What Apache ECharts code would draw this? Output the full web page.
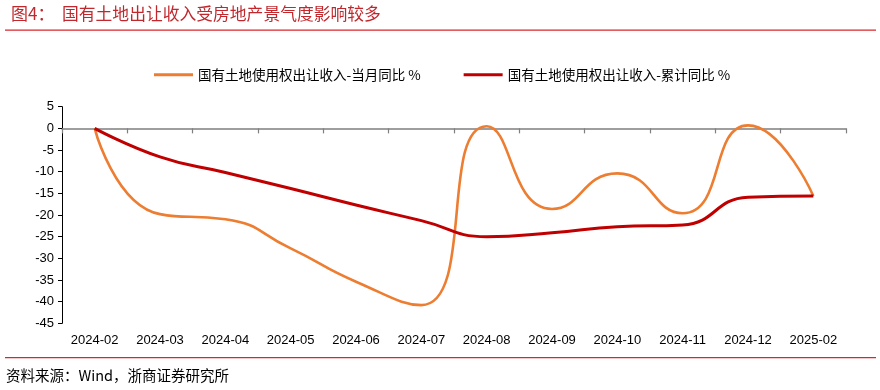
<!DOCTYPE html>
<html>
<head>
<meta charset="utf-8">
<script src="https://cdn.jsdelivr.net/npm/echarts@6/dist/echarts.min.js"></script>
<style>
html,body{margin:0;padding:0;background:#fff;}
#c{width:880px;height:390px;}
</style>
</head>
<body>
<div id="c"></div>
<script>
var categories = ['2024-02','2024-03','2024-04','2024-05','2024-06','2024-07','2024-08','2024-09','2024-10','2024-11','2024-12','2025-02'];
var monthlyYoY = [0, -19.8, -21.0, -27.7, -35.4, -40.8, 0.5, -18.6, -10.4, -19.6, 0.7, -15.6];
var cumulativeYoY = [0, -6.6, -10.2, -13.9, -17.7, -21.3, -25.0, -24.1, -22.7, -22.3, -15.9, -15.6];
var seriesNames = ['国有土地使用权出让收入-当月同比 %', '国有土地使用权出让收入-累计同比 %'];
var yTicks = {min: -45, max: 5, interval: 5};

var chart = echarts.init(document.getElementById('c'), null, {renderer: 'canvas'});
var cjk = '"Noto Sans CJK SC", "Noto Sans", sans-serif';
var latin = '"Liberation Sans", Arial, sans-serif';
var axisColor = '#7f7f7f';

chart.setOption({
  animation: false,
  backgroundColor: '#fff',
  grid: {left: 62, right: 34, top: 106.7, bottom: 66.7, containLabel: false},
  legend: {
    left: 149, top: 63,
    icon: 'rect',
    itemWidth: 39, itemHeight: 3, itemGap: 43,
    textStyle: {fontFamily: cjk, fontSize: 13.5, color: '#000'},
    data: seriesNames
  },
  xAxis: [
    {
      type: 'category', data: categories, position: 'bottom', boundaryGap: true,
      axisLine: {show: false, onZero: false},
      axisTick: {show: false},
      axisLabel: {fontFamily: latin, fontSize: 13, color: '#000', margin: 11, interval: 0}
    },
    {
      type: 'category', data: categories, position: 'bottom', boundaryGap: true,
      axisLine: {show: true, onZero: true, lineStyle: {color: axisColor, width: 1.5}},
      axisTick: {show: true, length: 5, lineStyle: {color: axisColor, width: 1.2}},
      axisLabel: {show: false}
    }
  ],
  yAxis: {
    type: 'value', min: yTicks.min, max: yTicks.max, interval: yTicks.interval,
    axisLine: {show: true, lineStyle: {color: '#000', width: 1}},
    axisTick: {show: true, length: 4, lineStyle: {color: '#000'}},
    splitLine: {show: false},
    axisLabel: {fontFamily: latin, fontSize: 13, color: '#000', margin: 8}
  },
  series: [
    {
      name: seriesNames[0], type: 'line', data: monthlyYoY, smooth: 0.55,
      symbol: 'none', xAxisIndex: 0,
      itemStyle: {color: '#ED7D31'},
      lineStyle: {color: '#ED7D31', width: 2.6}, z: 3
    },
    {
      name: seriesNames[1], type: 'line', data: cumulativeYoY, smooth: 0.5,
      symbol: 'none', xAxisIndex: 0,
      itemStyle: {color: '#C00000'},
      lineStyle: {color: '#C00000', width: 3}, z: 4
    }
  ],
  graphic: [
    {type: 'text', left: 11, top: 5, style: {text: '图4：', fontFamily: cjk, fontSize: 17, fill: '#C0282D'}},
    {type: 'text', left: 62, top: 5, style: {text: '国有土地出让收入受房地产景气度影响较多', fontFamily: cjk, fontSize: 16.8, fill: '#C0282D'}},
    {type: 'rect', shape: {x: 5, y: 29.5, width: 871, height: 1.3}, style: {fill: '#D9262B'}},
    {type: 'rect', shape: {x: 5, y: 357, width: 871, height: 1.3}, style: {fill: '#D9262B'}},
    {type: 'text', left: 6, top: 368, style: {text: '资料来源：Wind，浙商证券研究所', fontFamily: cjk, fontSize: 14.5, fill: '#000'}}
  ]
});
</script>
</body>
</html>
